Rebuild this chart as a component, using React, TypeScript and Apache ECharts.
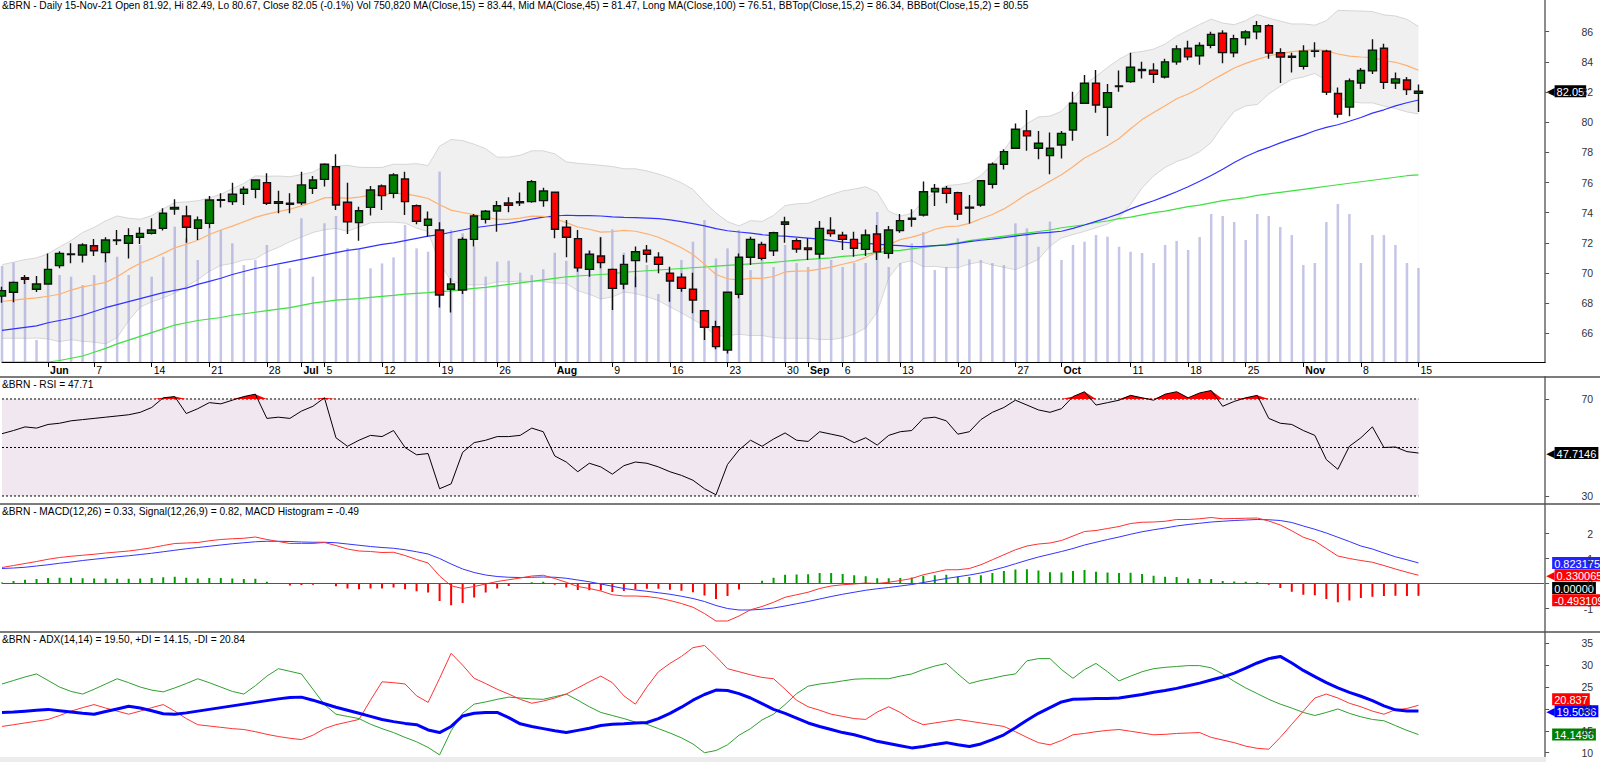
import React, { useEffect, useRef } from "react";
import * as echarts from "echarts";

const FONT = "'Liberation Sans', Arial, Helvetica, sans-serif";

// ---------------- categories ----------------
const FIRST_DAY = "2021-05-26";
const LAST_DAY = "2021-11-15";
const PAD_SLOTS = 11;

const TICK_LABELS: [string, string][] = [
  ["2021-06-01", "Jun"], ["2021-06-07", "7"], ["2021-06-14", "14"], ["2021-06-21", "21"], ["2021-06-28", "28"],
  ["2021-07-01", "Jul"], ["2021-07-05", "5"], ["2021-07-12", "12"], ["2021-07-19", "19"], ["2021-07-26", "26"],
  ["2021-08-02", "Aug"], ["2021-08-09", "9"], ["2021-08-16", "16"], ["2021-08-23", "23"], ["2021-08-30", "30"],
  ["2021-09-01", "Sep"], ["2021-09-06", "6"], ["2021-09-13", "13"], ["2021-09-20", "20"], ["2021-09-27", "27"],
  ["2021-10-01", "Oct"], ["2021-10-11", "11"], ["2021-10-18", "18"], ["2021-10-25", "25"],
  ["2021-11-01", "Nov"], ["2021-11-08", "8"], ["2021-11-15", "15"],
];
const MONTHS = ["Jun", "Jul", "Aug", "Sep", "Oct", "Nov"];

// ---------------- price data ----------------
const OPEN = [
  68.47, 68.72, 69.69, 68.92, 69.27, 70.49, 71.22, 71.19, 71.81, 71.35,
  72.15, 71.97, 72.37, 72.63, 72.96, 74.24, 73.78, 72.96, 73.29, 74.82,
  74.73, 75.28, 75.55, 75.99, 74.62, 74.55, 74.66, 75.62, 76.21, 77.05,
  74.69, 73.34, 74.35, 75.77, 75.28, 76.23, 74.46, 73.16, 72.85, 68.92,
  68.87, 72.23, 73.56, 74.11, 74.64, 74.66, 74.73, 74.8, 75.35, 73.03,
  72.28, 70.24, 71.13, 70.24, 69.27, 70.82, 71.52, 71.04, 69.98, 69.73,
  68.92, 67.5, 66.44, 64.89, 68.59, 71.04, 71.9, 71.48, 73.23, 72.14,
  71.66, 71.26, 72.83, 72.5, 72.23, 71.57, 72.59, 71.3, 72.81, 73.56,
  73.85, 75.39, 75.61, 75.33, 74.3, 74.51, 75.88, 77.21, 78.27, 79.42,
  78.27, 77.78, 78.49, 79.48, 81.25, 82.58, 80.99, 82.36, 82.69, 83.5,
  83.45, 83.0, 84.0, 84.9, 84.4, 85.1, 85.9, 84.6, 85.6, 86.0,
  86.4, 84.6, 84.3, 83.7, 84.7, 84.7, 81.9, 81.0, 82.6, 83.4,
  84.9, 82.6, 82.8, 81.92,
];
const HIGH = [
  69.09, 69.43, 69.87, 69.8, 71.3, 71.44, 71.97, 71.97, 72.26, 72.37,
  72.85, 72.96, 73.03, 73.63, 74.29, 74.89, 74.46, 73.74, 75.11, 75.28,
  75.99, 75.73, 76.21, 76.61, 75.46, 75.28, 76.72, 76.43, 77.27, 77.87,
  75.99, 74.4, 75.77, 75.86, 76.61, 76.72, 74.55, 74.07, 73.36, 69.65,
  72.37, 73.91, 74.18, 74.77, 75.02, 75.33, 76.17, 75.66, 75.4, 73.51,
  72.85, 71.48, 72.37, 70.3, 71.19, 71.75, 71.86, 71.37, 70.42, 69.98,
  70.02, 67.55, 66.84, 68.72, 71.3, 72.41, 72.08, 72.74, 73.73, 72.3,
  72.3, 73.45, 73.69, 72.74, 72.74, 72.89, 73.18, 73.12, 73.91, 74.22,
  76.06, 75.9, 75.77, 75.39, 75.17, 76.17, 77.32, 78.2, 79.92, 80.81,
  79.42, 79.31, 79.42, 82.02, 83.13, 83.46, 82.53, 83.42, 84.61, 84.0,
  83.9, 84.2, 85.1, 85.4, 85.3, 86.0, 86.1, 85.8, 86.1, 86.7,
  86.5, 84.9, 84.6, 85.1, 85.3, 84.8, 82.3, 82.9, 83.6, 85.5,
  85.2, 83.3, 83.0, 82.49,
];
const LOW = [
  68.03, 68.06, 69.27, 68.74, 69.27, 70.31, 70.64, 70.69, 71.13, 70.71,
  71.86, 70.97, 71.92, 72.56, 72.81, 73.87, 72.01, 72.19, 72.96, 74.35,
  74.51, 74.51, 74.95, 74.51, 73.96, 73.96, 74.51, 75.24, 75.73, 74.18,
  72.59, 72.14, 73.82, 74.18, 74.95, 73.85, 73.23, 72.41, 67.72, 67.39,
  68.61, 71.75, 73.29, 72.74, 74.02, 74.44, 74.66, 74.4, 72.3, 71.04,
  70.09, 69.76, 70.31, 67.55, 68.92, 69.05, 70.69, 69.98, 68.1, 68.76,
  67.33, 65.56, 64.94, 64.67, 68.32, 70.53, 70.85, 71.13, 72.01, 71.35,
  70.86, 70.97, 72.41, 71.52, 71.08, 71.13, 70.86, 70.97, 72.67, 73.07,
  73.74, 74.44, 74.62, 73.52, 73.29, 74.4, 75.61, 76.87, 78.27, 78.11,
  77.54, 76.54, 77.6, 78.77, 81.21, 80.63, 79.08, 82.02, 82.62, 82.9,
  82.6, 82.9, 83.8, 84.1, 83.8, 84.9, 83.9, 84.3, 85.1, 85.5,
  84.2, 82.6, 83.3, 83.5, 84.3, 81.8, 80.3, 80.4, 82.2, 83.2,
  82.2, 82.2, 81.8, 80.67,
];
const CLOSE = [
  68.83, 69.38, 69.58, 69.27, 70.24, 71.3, 71.26, 71.86, 71.48, 72.19,
  72.19, 72.48, 72.63, 72.85, 73.96, 74.35, 73.03, 73.52, 74.84, 74.86,
  75.22, 75.55, 76.17, 74.62, 74.73, 74.62, 75.84, 76.17, 77.21, 74.51,
  73.4, 74.13, 75.5, 75.13, 76.5, 74.73, 73.43, 73.56, 68.54, 69.27,
  72.23, 73.78, 74.09, 74.46, 74.49, 74.73, 76.06, 75.44, 72.9, 72.37,
  70.35, 71.24, 70.69, 68.98, 70.57, 71.41, 71.24, 70.57, 69.47, 68.98,
  68.21, 66.4, 65.12, 68.72, 71.04, 72.23, 70.97, 72.67, 73.38, 71.59,
  71.55, 72.96, 72.61, 72.23, 71.64, 72.52, 71.41, 72.85, 73.47, 73.63,
  75.39, 75.61, 75.28, 73.91, 74.36, 76.12, 77.21, 78.05, 79.53, 79.09,
  78.6, 78.27, 79.26, 81.25, 82.58, 81.14, 81.96, 82.4, 83.64, 83.42,
  83.18, 84.0, 84.86, 84.33, 85.08, 85.82, 84.61, 85.53, 85.99, 86.4,
  84.58, 84.32, 84.38, 84.71, 84.72, 81.99, 80.54, 82.74, 83.43, 84.78,
  82.64, 82.87, 82.17, 82.05,
];
const VOLUME_K = [
  766, 793, 681, 176, 721, 694, 681, 614, 694, 801,
  840, 694, 934, 681, 840, 1080, 987, 814, 1067, 1053,
  947, 774, 814, 934, 774, 748, 1147, 681, 1107, 1165,
  910, 907, 748, 787, 835, 1093, 907, 880, 1519, 1053,
  1027, 920, 681, 801, 808, 713, 694, 740, 872, 808,
  987, 894, 1000, 1059, 872, 681, 774, 543, 686, 814,
  960, 1133, 827, 907, 1053, 734, 854, 758, 934, 790,
  758, 934, 814, 758, 790, 790, 1197, 758, 790, 947,
  1037, 734, 758, 987, 819, 814, 790, 774, 1107, 1067,
  920, 1120, 814, 934, 960, 1013, 1000, 920, 880, 870,
  790, 934, 966, 894, 997, 1181, 1165, 1117, 974, 1181,
  1165, 1077, 1013, 774, 790, 1117, 1261, 1181, 790, 1013,
  1013, 934, 790, 750.82,
];
const MA15 = [
  68.11, 68.2, 68.28, 68.35, 68.46, 68.59, 68.87, 69.08, 69.22, 69.38,
  69.75, 70.24, 70.65, 70.95, 71.3, 71.67, 71.91, 72.17, 72.55, 72.85,
  73.11, 73.4, 73.69, 73.9, 74.07, 74.23, 74.45, 74.69, 74.98, 75.02,
  74.95, 75.03, 75.16, 75.18, 75.29, 75.25, 75.11, 74.94, 74.53, 74.17,
  74.01, 73.87, 73.73, 73.55, 73.55, 73.64, 73.77, 73.76, 73.61, 73.34,
  73.05, 72.9, 72.71, 72.74, 72.83, 72.77, 72.6, 72.37, 72.03, 71.67,
  71.23, 70.59, 69.9, 69.62, 69.53, 69.66, 69.64, 69.77, 70.07, 70.13,
  70.14, 70.26, 70.39, 70.58, 70.75, 71.04, 71.38, 71.89, 72.21, 72.38,
  72.59, 72.9, 73.07, 73.11, 73.29, 73.6, 73.88, 74.25, 74.73, 75.23,
  75.63, 76.09, 76.52, 77.04, 77.63, 78.02, 78.44, 78.92, 79.56, 80.17,
  80.64, 81.09, 81.55, 81.87, 82.26, 82.75, 83.17, 83.59, 83.9, 84.16,
  84.39, 84.54, 84.68, 84.75, 84.83, 84.75, 84.52, 84.38, 84.32, 84.3,
  84.09, 83.97, 83.75, 83.44,
];
const MA45 = [
  66.2, 66.3, 66.4, 66.5, 66.7, 66.85, 67.0, 67.2, 67.45, 67.7,
  67.9, 68.1, 68.3, 68.5, 68.7, 68.85, 69.0, 69.25, 69.45, 69.65,
  69.9, 70.1, 70.3, 70.45, 70.6, 70.75, 70.9, 71.05, 71.2, 71.35,
  71.5, 71.6, 71.75, 71.9, 72.0, 72.15, 72.3, 72.45, 72.55, 72.7,
  72.85, 73.0, 73.1, 73.2, 73.29, 73.42, 73.57, 73.7, 73.78, 73.83,
  73.81, 73.8, 73.78, 73.72, 73.69, 73.67, 73.64, 73.6, 73.52, 73.41,
  73.27, 73.13, 72.94, 72.8, 72.72, 72.65, 72.55, 72.47, 72.45, 72.38,
  72.31, 72.24, 72.16, 72.05, 71.99, 71.97, 71.91, 71.85, 71.81, 71.75,
  71.77, 71.81, 71.85, 71.97, 72.08, 72.17, 72.25, 72.34, 72.45, 72.55,
  72.64, 72.69, 72.77, 72.96, 73.18, 73.42, 73.66, 73.92, 74.25, 74.53,
  74.79, 75.08, 75.39, 75.72, 76.08, 76.47, 76.88, 77.33, 77.72, 78.06,
  78.33, 78.63, 78.89, 79.14, 79.43, 79.66, 79.83, 80.06, 80.31, 80.6,
  80.82, 81.08, 81.29, 81.47,
];
const MA100 = [
  64.1, 64.1, 64.1, 64.1, 64.1, 64.2, 64.35, 64.5, 64.75, 65.0,
  65.3, 65.55, 65.8, 66.05, 66.3, 66.55, 66.7, 66.85, 66.95, 67.05,
  67.2, 67.3, 67.4, 67.5, 67.6, 67.7, 67.85, 68.0, 68.1, 68.2,
  68.25, 68.3, 68.38, 68.45, 68.52, 68.6, 68.65, 68.7, 68.76, 68.82,
  68.9, 68.98, 69.05, 69.15, 69.25, 69.35, 69.45, 69.55, 69.65, 69.75,
  69.8, 69.85, 69.9, 69.95, 70.05, 70.1, 70.15, 70.2, 70.25, 70.3,
  70.35, 70.4, 70.45, 70.5, 70.55, 70.6, 70.65, 70.7, 70.78, 70.85,
  70.9, 70.95, 71.0, 71.1, 71.15, 71.25, 71.35, 71.45, 71.5, 71.6,
  71.7, 71.8, 71.9, 72.0, 72.15, 72.25, 72.35, 72.45, 72.55, 72.65,
  72.75, 72.85, 73.0, 73.1, 73.2, 73.35, 73.45, 73.6, 73.7, 73.85,
  74.0, 74.1, 74.25, 74.4, 74.5, 74.65, 74.8, 74.9, 75.0, 75.15,
  75.25, 75.35, 75.45, 75.55, 75.65, 75.75, 75.85, 75.95, 76.05, 76.15,
  76.25, 76.35, 76.45, 76.51,
];
const BB_TOP = [
  70.55, 70.72, 70.89, 71.0, 71.28, 71.73, 72.16, 72.69, 73.02, 73.46,
  73.78, 73.63, 73.56, 73.8, 74.25, 74.67, 74.71, 74.79, 74.98, 75.21,
  75.59, 75.94, 76.44, 76.41, 76.43, 76.38, 76.53, 76.69, 77.09, 77.07,
  77.14, 77.01, 76.99, 77.0, 77.21, 77.2, 77.25, 77.12, 78.41, 78.85,
  78.78, 78.54, 78.24, 77.68, 77.68, 77.81, 78.1, 78.1, 77.9, 77.37,
  77.27, 77.21, 77.14, 77.06, 76.91, 76.91, 76.77, 76.56, 76.31, 75.98,
  75.54, 74.7, 73.98, 73.41, 73.12, 73.47, 73.42, 73.82, 74.47, 74.59,
  74.62, 74.92, 75.2, 75.44, 75.56, 75.72, 75.35, 74.09, 73.77, 73.95,
  74.76, 75.36, 75.8, 75.86, 75.99, 76.46, 77.23, 78.11, 79.24, 79.9,
  80.35, 80.4, 80.72, 81.52, 82.51, 83.03, 83.63, 84.17, 84.58, 84.69,
  84.84, 85.18, 85.7, 86.09, 86.48, 86.83, 86.57, 86.46, 86.73, 87.14,
  86.9, 86.7, 86.51, 86.51, 86.43, 86.73, 87.41, 87.39, 87.37, 87.33,
  87.11, 87.04, 86.82, 86.34,
];
const BB_BOT = [
  65.67, 65.68, 65.67, 65.69, 65.63, 65.45, 65.58, 65.47, 65.42, 65.3,
  65.72, 66.85, 67.74, 68.09, 68.35, 68.67, 69.11, 69.56, 70.11, 70.5,
  70.64, 70.86, 70.94, 71.39, 71.7, 72.08, 72.38, 72.69, 72.87, 72.96,
  72.77, 73.04, 73.33, 73.36, 73.37, 73.31, 72.98, 72.75, 70.66, 69.49,
  69.24, 69.21, 69.23, 69.42, 69.42, 69.47, 69.43, 69.43, 69.33, 69.31,
  68.83, 68.59, 68.28, 68.42, 68.74, 68.64, 68.44, 68.17, 67.76, 67.36,
  66.93, 66.48, 65.82, 65.83, 65.95, 65.85, 65.86, 65.72, 65.67, 65.67,
  65.67, 65.6, 65.59, 65.71, 65.95, 66.36, 67.41, 69.69, 70.65, 70.81,
  70.42, 70.44, 70.35, 70.36, 70.6, 70.74, 70.53, 70.38, 70.22, 70.55,
  70.91, 71.78, 72.32, 72.55, 72.76, 73.0, 73.25, 73.66, 74.54, 75.64,
  76.44, 77.0, 77.39, 77.65, 78.04, 78.66, 79.76, 80.71, 81.08, 81.17,
  81.87, 82.39, 82.84, 82.99, 83.23, 82.77, 81.64, 81.38, 81.28, 81.28,
  81.07, 80.91, 80.68, 80.55,
];

// ---------------- RSI ----------------
const RSI_HIGH = 70;
const RSI_MID = 50;
const RSI_LOW = 30;
const RSI = [
  55.7, 57, 58.5, 58, 59.5, 60, 61, 61.5, 62, 62.5,
  63, 63.5, 64.5, 66.5, 70.5, 71, 64, 66, 68.5, 68,
  69.5, 71, 72, 62, 62.5, 62, 65, 67, 70.5, 54,
  50.5, 53, 55, 54.5, 57, 50, 47, 47.5, 33, 35,
  48, 52, 53, 54.5, 54.5, 55, 58, 56.5, 46.5, 44,
  40, 43.5, 42, 39, 42.5, 44, 43.5, 42, 40, 38.5,
  36.5, 33, 30.5, 43, 49, 53, 50.5, 53.5, 56, 53,
  52.5, 56.5, 55.5, 54.5, 52, 54, 51, 55, 56.5, 57,
  62, 62.5, 61, 55.5, 56.5, 61.5, 64.5, 66.5, 69.5, 67.5,
  65.5, 64.5, 66, 71, 73, 67.5, 68.5, 69.5, 71.5, 70.5,
  69.5, 72, 73, 70.5, 72.5, 73.5, 67, 69, 70.5, 71.5,
  62, 60, 59.5, 57, 55, 45, 41, 50.5, 54, 58.5,
  50, 50.2, 48.3, 47.7146,
];

// ---------------- MACD ----------------
const MACD = [
  0.64, 0.72, 0.8, 0.88, 0.97, 1.04, 1.09, 1.13, 1.17, 1.22,
  1.26, 1.3, 1.36, 1.43, 1.52, 1.6, 1.62, 1.64, 1.71, 1.76,
  1.79, 1.81, 1.86, 1.76, 1.68, 1.6, 1.6, 1.6, 1.64, 1.52,
  1.38, 1.3, 1.28, 1.24, 1.25, 1.12, 0.96, 0.82, 0.3, -0.09,
  -0.2, -0.12, -0.02, 0.08, 0.15, 0.22, 0.3, 0.33, 0.2, 0.05,
  -0.12, -0.2, -0.3, -0.45, -0.5, -0.5, -0.52, -0.58, -0.68, -0.8,
  -0.95, -1.2, -1.5, -1.5, -1.3, -1.05, -0.92, -0.75, -0.55, -0.45,
  -0.35, -0.2, -0.1, -0.05, -0.02, 0.02, 0.0, 0.05, 0.12, 0.2,
  0.35, 0.45, 0.55, 0.55, 0.6, 0.75, 0.95, 1.15, 1.35, 1.5,
  1.58, 1.62, 1.72, 1.9, 2.08, 2.12, 2.2, 2.28, 2.4, 2.45,
  2.46, 2.49, 2.56, 2.56, 2.59, 2.64, 2.59, 2.6, 2.61, 2.62,
  2.5, 2.34, 2.11, 1.85, 1.7, 1.4, 1.1, 1.0, 0.92, 0.85,
  0.72, 0.58, 0.45, 0.330065,
];
const SIGNAL = [
  0.6, 0.62, 0.65, 0.7, 0.75, 0.81, 0.86, 0.92, 0.97, 1.02,
  1.07, 1.11, 1.16, 1.21, 1.27, 1.33, 1.39, 1.44, 1.49, 1.54,
  1.59, 1.63, 1.67, 1.69, 1.69, 1.68, 1.66, 1.65, 1.65, 1.63,
  1.58, 1.53, 1.48, 1.44, 1.41, 1.35, 1.27, 1.18, 1.0, 0.78,
  0.58, 0.44, 0.34, 0.28, 0.25, 0.24, 0.25, 0.26, 0.25, 0.21,
  0.14, 0.07, -0.02, -0.11, -0.2, -0.26, -0.31, -0.37, -0.43, -0.51,
  -0.6, -0.72, -0.88, -1.0, -1.06, -1.06, -1.03, -0.98, -0.9, -0.81,
  -0.72, -0.62, -0.52, -0.43, -0.35, -0.27, -0.21, -0.16, -0.1, -0.04,
  0.04, 0.12, 0.2, 0.27, 0.34, 0.42, 0.53, 0.65, 0.79, 0.93,
  1.06, 1.17, 1.28, 1.4, 1.54, 1.65, 1.76, 1.86, 1.97, 2.07,
  2.15, 2.22, 2.3, 2.36, 2.41, 2.46, 2.49, 2.52, 2.54, 2.56,
  2.55, 2.52, 2.44, 2.3, 2.17, 2.02, 1.85, 1.68, 1.5, 1.38,
  1.22, 1.07, 0.95, 0.823175,
];
const HIST = [
  0.04, 0.1, 0.15, 0.18, 0.22, 0.23, 0.23, 0.21, 0.2, 0.2,
  0.19, 0.19, 0.2, 0.22, 0.25, 0.27, 0.23, 0.2, 0.22, 0.22,
  0.2, 0.18, 0.19, 0.07, -0.01, -0.08, -0.06, -0.05, -0.01, -0.11,
  -0.2, -0.23, -0.2, -0.2, -0.16, -0.23, -0.31, -0.36, -0.7, -0.87,
  -0.78, -0.56, -0.36, -0.2, -0.1, -0.02, 0.05, 0.07, -0.05, -0.16,
  -0.26, -0.27, -0.28, -0.34, -0.3, -0.24, -0.21, -0.21, -0.25, -0.29,
  -0.35, -0.48, -0.62, -0.5, -0.24, 0.01, 0.11, 0.23, 0.35, 0.36,
  0.37, 0.42, 0.42, 0.38, 0.33, 0.29, 0.21, 0.21, 0.22, 0.24,
  0.31, 0.33, 0.35, 0.28, 0.26, 0.33, 0.42, 0.5, 0.56, 0.57,
  0.52, 0.45, 0.44, 0.5, 0.54, 0.47, 0.44, 0.42, 0.43, 0.38,
  0.31, 0.27, 0.26, 0.2, 0.18, 0.18, 0.1, 0.08, 0.07, 0.06,
  -0.05, -0.18, -0.33, -0.45, -0.47, -0.62, -0.75, -0.68, -0.58, -0.53,
  -0.5, -0.49, -0.5, -0.493109,
];

// ---------------- ADX ----------------
const ADX = [
  19.2, 19.3, 19.5, 19.7, 19.9, 19.6, 19.3, 19.0, 18.8, 19.4,
  20.0, 20.6, 20.2, 19.6, 18.9, 18.8, 19.1, 19.5, 19.9, 20.3,
  20.7, 21.1, 21.5, 21.9, 22.3, 22.6, 22.7, 22.0, 21.2, 20.4,
  19.7, 19.0, 18.3, 17.6, 17.1, 16.7, 16.4, 15.2, 14.6, 16.0,
  18.4, 19.0, 19.2, 19.2, 18.0, 16.6, 16.0, 15.5, 15.0, 14.6,
  15.1, 15.6, 16.2, 16.5, 16.6, 16.8, 16.9, 17.8, 19.0, 20.4,
  22.0, 23.3, 24.3, 24.2, 23.5, 22.5, 21.2, 19.9, 19.0, 17.9,
  16.8, 16.0, 15.3, 14.6, 14.1, 13.4, 12.6, 12.1, 11.6, 11.1,
  11.4, 11.9, 12.3, 11.8, 11.4, 12.0, 13.0, 14.1, 15.7, 17.4,
  19.0, 20.3, 21.6, 22.2, 22.3, 22.4, 22.4, 22.5, 22.9, 23.3,
  23.8, 24.2, 24.7, 25.3, 25.9, 26.6, 27.3, 28.2, 29.3, 30.5,
  31.5, 32.0, 30.5, 28.8, 27.4, 26.0, 24.8, 23.8, 22.9, 21.9,
  20.7, 19.8, 19.55, 19.5036,
];
const PLUS_DI = [
  25.7, 26.5, 27.3, 28, 26.5, 25, 24, 23.4, 24.5, 25.7,
  26.9, 26, 25, 24.3, 23.9, 24.8, 25.8, 26.9, 26, 25,
  24, 23.4, 25.3, 27.5, 29.2, 28.6, 28, 24.5, 21, 18.8,
  18.3, 17.8, 16.5, 15.5, 14.6, 13.5, 12.5, 11.2, 9.5, 15,
  19, 21.1, 21.6, 22.2, 22.7, 22.5, 22.3, 22.2, 22.8, 23.4,
  22, 20.5, 19.2, 18.5, 17.8, 17, 16.5, 15.5, 14.5, 13.4,
  12, 10, 10.5, 11.8, 14, 15.5, 17.5, 18.8, 21, 23.5,
  25.2, 25.7, 26, 26.4, 26.8, 26.9, 26.9, 26.9, 27.5, 28,
  29, 29.8, 30.4, 28, 25.8, 26.5, 27, 27.6, 28, 31,
  31.5, 31.5, 29, 27, 29, 30.4, 28.5, 26.4, 27.5, 28.5,
  29.2, 29.5, 29.7, 29.9, 29.9, 29.4, 28, 26.3, 24.8, 23.5,
  22.2, 21.1, 20.2, 19.2, 18.5, 19.2, 20, 19, 18.2, 17.6,
  17.3, 16.2, 15.1, 14.1496,
];
const MINUS_DI = [
  16, 16.4, 16.8, 17.2, 17.6, 18.5, 19.5, 20.3, 21, 20.2,
  19.5, 18.8, 19.5, 20.3, 21, 19.5, 17.8, 16.4, 16.1, 15.8,
  15.5, 15.3, 14.8, 14.2, 13.7, 13.3, 13, 14, 15.5, 16.4,
  17, 17.6, 22, 26.2, 26, 25.7, 23, 21.5, 27, 32.7,
  30, 27, 25.8, 24.5, 23.4, 22.2, 21.3, 21.8, 22.5, 23.4,
  24.8, 26.2, 27.5, 26, 23, 21.1, 25, 28.5, 30.4, 32,
  34, 34.5, 32, 29.2, 28.5, 27.8, 27.2, 26.9, 24.5, 22,
  20.5, 19.7, 18.8, 18.3, 17.8, 17.6, 19.3, 20.5, 19.2, 17.5,
  16.4, 16.8, 17.2, 17.6, 17.2, 16.8, 16.4, 16, 14.8, 13.5,
  12.3, 11.8, 12.8, 14.1, 14.4, 14.8, 15.1, 15.3, 14.9, 14.5,
  14.1, 14.2, 14.4, 14.5, 14.6, 13.5, 12.9, 12.3, 11.5, 11,
  10.8, 13.5, 16.5, 19.5, 22.5, 23.4, 22.5, 21.3, 20.5, 19.5,
  18.8, 19.8, 20.1, 20.837,
];

// ---------------- helpers ----------------
function tradingDays(from: string, to: string): string[] {
  const out: string[] = [];
  const d = new Date(from + "T00:00:00Z");
  const end = new Date(to + "T00:00:00Z").getTime();
  while (d.getTime() <= end) {
    const w = d.getUTCDay();
    if (w !== 0 && w !== 6) out.push(d.toISOString().slice(0, 10));
    d.setUTCDate(d.getUTCDate() + 1);
  }
  return out;
}

const last = (a: number[]) => a[a.length - 1];
const HIDDEN_LINE = { color: "rgba(0,0,0,0)", width: 0, opacity: 1 };

function tagLabel(text: string, bg: string, arrow: boolean, dy = 0) {
  return {
    show: true,
    position: "end",
    distance: arrow ? 1 : 7,
    offset: [0, dy],
    formatter: arrow ? `{a|◀}{t|${text}}` : `{t|${text}}`,
    rich: {
      a: { color: bg, fontSize: 11, fontFamily: "'DejaVu Sans'", lineHeight: 14, padding: [0, 0, 0, 0] },
      t: {
        backgroundColor: bg,
        color: "#ffffff",
        fontSize: 11,
        fontFamily: FONT,
        lineHeight: 14,
        padding: [1, 2, 0, 2],
      },
    },
  };
}

function tagMark(items: { value: number; text: string; bg: string; arrow: boolean; dy?: number; line?: any }[]) {
  return {
    silent: true,
    symbol: ["none", "none"],
    animation: false,
    lineStyle: HIDDEN_LINE,
    data: items.map((it) => ({
      yAxis: it.value,
      lineStyle: it.line || HIDDEN_LINE,
      label: tagLabel(it.text, it.bg, it.arrow, it.dy || 0),
    })),
  };
}

function yAxisFor(grid: number, min: number, max: number, ticks: number[]) {
  return {
    type: "value",
    gridIndex: grid,
    position: "right",
    min,
    max,
    splitLine: { show: false },
    axisLine: { show: true, lineStyle: { color: "#8c8c8c", width: 2 } },
    axisTick: { show: true, length: 4, customValues: ticks, lineStyle: { color: "#555" } },
    axisLabel: {
      show: true,
      customValues: ticks,
      align: "right",
      margin: 48,
      color: "#333",
      fontSize: 10.5,
      fontFamily: FONT,
    },
    z: 10,
  };
}

function headerRich(size: number) {
  const base = { fontSize: size, fontFamily: FONT };
  return {
    k: { ...base, color: "#000000" },
    o: { ...base, color: "#ffa050" },
    b: { ...base, color: "#3030ff" },
    g: { ...base, color: "#33cc33" },
    l: { ...base, color: "#c4c4c4" },
    r: { ...base, color: "#ff2020" },
  };
}

function App() {
  const ref = useRef<HTMLDivElement>(null);

  useEffect(() => {
    if (!ref.current) return;
    const chart = echarts.init(ref.current, null, { renderer: "svg" });

    const dates = tradingDays(FIRST_DAY, LAST_DAY);
    const cats = [...dates, ...Array.from({ length: PAD_SLOTS }, (_, k) => `pad${k}`)];
    const labelMap = new Map<number, string>();
    TICK_LABELS.forEach(([d, t]) => {
      const i = dates.indexOf(d);
      if (i >= 0) labelMap.set(i, t);
    });

    const left = 2;
    const step = 11.516;
    const width = step * (cats.length - 1);

    const grids = [
      { left, top: 0, width, height: 362 },
      { left, top: 377, width, height: 127 },
      { left, top: 504, width, height: 128 },
      { left, top: 632, width, height: 125 },
    ];

    const xAxes = grids.map((_, g) => ({
      type: "category",
      gridIndex: g,
      data: cats,
      boundaryGap: false,
      axisLine: g === 0 ? { show: true, onZero: false, lineStyle: { color: "#000", width: 1 } } : { show: false },
      axisTick:
        g === 0
          ? { show: true, interval: (i: number) => labelMap.has(i), length: 5, lineStyle: { color: "#000" } }
          : { show: false },
      axisLabel:
        g === 0
          ? {
              show: true,
              interval: (i: number) => labelMap.has(i),
              formatter: (_v: string, i: number) => {
                const t = labelMap.get(i) || "";
                return MONTHS.includes(t) ? `{m|${t}}` : `{d|${t}}`;
              },
              align: "left",
              margin: 2,
              rich: {
                m: { fontWeight: "bold", fontSize: 10.5, color: "#000", fontFamily: FONT, padding: [0, 0, 0, 2] },
                d: { fontSize: 10.5, color: "#000", fontFamily: FONT, padding: [0, 0, 0, 2] },
              },
            }
          : { show: false },
      splitLine: { show: false },
      z: 10,
    }));

    const priceTicks = [66, 68, 70, 72, 74, 76, 78, 80, 82, 84, 86];
    const yAxes: any[] = [
      yAxisFor(0, 64.1, 88.1, priceTicks),
      { type: "value", gridIndex: 0, show: false, min: 0, max: 2889 },
      yAxisFor(1, 26.7, 79.07, [30, 70]),
      yAxisFor(2, -1.94, 3.18, [-1, 0, 1, 2]),
      yAxisFor(3, 9.02, 37.58, [10, 15, 20, 25, 30, 35]),
    ];

    const ohlc = dates.map((_, i) => [OPEN[i], CLOSE[i], LOW[i], HIGH[i]]);
    const rsiHi = dates.map(() => RSI_HIGH);
    const rsiMid = dates.map(() => RSI_MID);
    const rsiLo = dates.map(() => RSI_LOW);
    const rsiExcess = RSI.map((v) => Math.max(v - RSI_HIGH, 0));

    const lineBase = { type: "line", symbol: "none", silent: true, animation: false };

    const series: any[] = [
      // ---- price panel ----
      {
        ...lineBase, name: "BBTop", xAxisIndex: 0, yAxisIndex: 0, data: BB_TOP, z: 1,
        lineStyle: { color: "#d6d6d6", width: 1 },
        areaStyle: { color: "#f0f0f0", opacity: 1, origin: "start" },
      },
      {
        ...lineBase, name: "BBBot", xAxisIndex: 0, yAxisIndex: 0, data: BB_BOT, z: 2,
        lineStyle: { color: "#d6d6d6", width: 1 },
        areaStyle: { color: "#ffffff", opacity: 1, origin: "start" },
      },
      {
        type: "bar", name: "Vol", xAxisIndex: 0, yAxisIndex: 1, data: VOLUME_K, barWidth: 2.5, z: 3, silent: true,
        itemStyle: { color: "rgba(150,150,212,0.55)" },
      },
      { ...lineBase, name: "MA100", xAxisIndex: 0, yAxisIndex: 0, data: MA100, z: 4, lineStyle: { color: "#3fe03f", width: 1.2 } },
      { ...lineBase, name: "MA45", xAxisIndex: 0, yAxisIndex: 0, data: MA45, z: 4, lineStyle: { color: "#3232ff", width: 1.2 } },
      { ...lineBase, name: "MA15", xAxisIndex: 0, yAxisIndex: 0, data: MA15, z: 4, lineStyle: { color: "#ffb070", width: 1.2 } },
      {
        type: "candlestick", name: "BRN", xAxisIndex: 0, yAxisIndex: 0, data: ohlc, barWidth: 8, z: 5, silent: true,
        itemStyle: { color: "#008000", color0: "#ff0000", borderColor: "#111", borderColor0: "#111", borderWidth: 1.4 },
        markLine: tagMark([{ value: last(CLOSE), text: last(CLOSE).toFixed(2), bg: "#000000", arrow: true }]),
      },
      // ---- RSI panel ----
      {
        ...lineBase, name: "rsiBand", xAxisIndex: 1, yAxisIndex: 2, data: rsiHi, z: 1,
        lineStyle: { color: "#000", width: 1, type: [2, 2] },
        areaStyle: { color: "#f1e7f1", opacity: 1, origin: "start" },
      },
      {
        ...lineBase, name: "rsiLowBand", xAxisIndex: 1, yAxisIndex: 2, data: rsiLo, z: 2,
        lineStyle: { color: "#000", width: 1, type: [2, 2] },
        areaStyle: { color: "#ffffff", opacity: 1, origin: "start" },
      },
      {
        ...lineBase, name: "rsiMid", xAxisIndex: 1, yAxisIndex: 2, data: rsiMid, z: 3,
        lineStyle: { color: "#000", width: 1, type: [2, 2] },
      },
      {
        ...lineBase, name: "rsiBase", xAxisIndex: 1, yAxisIndex: 2, data: rsiHi, stack: "ob", z: 3,
        lineStyle: { opacity: 0, width: 0 },
      },
      {
        ...lineBase, name: "rsiOver", xAxisIndex: 1, yAxisIndex: 2, data: rsiExcess, stack: "ob", z: 4,
        lineStyle: { opacity: 0, width: 0 },
        areaStyle: { color: "#ff0000", opacity: 1 },
      },
      {
        ...lineBase, name: "RSI", xAxisIndex: 1, yAxisIndex: 2, data: RSI, z: 5,
        lineStyle: { color: "#000", width: 1 },
        markLine: tagMark([{ value: last(RSI), text: last(RSI).toFixed(4), bg: "#000000", arrow: true }]),
      },
      // ---- MACD panel ----
      {
        type: "bar", name: "Hist", xAxisIndex: 2, yAxisIndex: 3, data: HIST, barWidth: 2, z: 2, silent: true,
        itemStyle: { color: (p: any) => (p.value >= 0 ? "#00a000" : "#ff0000") },
        markLine: tagMark([
          { value: 0, text: "0.00000", bg: "#000000", arrow: false, dy: 4.5, line: { color: "#555", width: 1, type: "solid", opacity: 1 } },
          { value: last(HIST), text: String(last(HIST)), bg: "#ff0000", arrow: false, dy: 4.5 },
        ]),
      },
      {
        ...lineBase, name: "Signal", xAxisIndex: 2, yAxisIndex: 3, data: SIGNAL, z: 3,
        lineStyle: { color: "#3333ff", width: 1 },
        markLine: tagMark([{ value: last(SIGNAL), text: String(last(SIGNAL)), bg: "#2222ff", arrow: false }]),
      },
      {
        ...lineBase, name: "MACD", xAxisIndex: 2, yAxisIndex: 3, data: MACD, z: 4,
        lineStyle: { color: "#ff3030", width: 1 },
        markLine: tagMark([{ value: last(MACD), text: String(last(MACD)), bg: "#ff0000", arrow: true }]),
      },
      // ---- ADX panel ----
      {
        ...lineBase, name: "+DI", xAxisIndex: 3, yAxisIndex: 4, data: PLUS_DI, z: 3,
        lineStyle: { color: "#2ea02e", width: 1 },
        markLine: tagMark([{ value: last(PLUS_DI), text: String(last(PLUS_DI)), bg: "#008000", arrow: false }]),
      },
      {
        ...lineBase, name: "-DI", xAxisIndex: 3, yAxisIndex: 4, data: MINUS_DI, z: 3,
        lineStyle: { color: "#ff3333", width: 1 },
        markLine: tagMark([{ value: last(MINUS_DI), text: String(last(MINUS_DI)), bg: "#ff0000", arrow: false, dy: -6 }]),
      },
      {
        ...lineBase, name: "ADX", xAxisIndex: 3, yAxisIndex: 4, data: ADX, z: 4,
        lineStyle: { color: "#0000ff", width: 3 },
        markLine: tagMark([{ value: last(ADX), text: String(last(ADX)), bg: "#0000ff", arrow: true }]),
      },
    ];

    const n = dates.length;
    const chg = ((CLOSE[n - 1] - CLOSE[n - 2]) / CLOSE[n - 2]) * 100;
    const vol = Math.round(last(VOLUME_K) * 1000).toLocaleString("en-US");

    const mk = (parts: [string, string][]) => parts.map(([s, t]) => `{${s}|${t}}`).join("");

    const priceHeader = mk([
      ["k", `&BRN - Daily 15-Nov-21 Open ${last(OPEN).toFixed(2)}, Hi ${last(HIGH).toFixed(2)}, Lo ${last(LOW).toFixed(2)}, Close ${last(CLOSE).toFixed(2)} (${chg.toFixed(1)}%) Vol ${vol} `],
      ["o", "MA(Close,15)"], ["k", ` = ${last(MA15).toFixed(2)}, `],
      ["b", "Mid MA(Close,45)"], ["k", ` = ${last(MA45).toFixed(2)}, `],
      ["g", "Long MA(Close,100)"], ["k", ` = ${last(MA100).toFixed(2)}, `],
      ["l", "BBTop(Close,15,2)"], ["k", ` = ${last(BB_TOP).toFixed(2)}, `],
      ["l", "BBBot(Close,15,2)"], ["k", ` = ${last(BB_BOT).toFixed(2)}`],
    ]);
    const rsiHeader = mk([["k", `&BRN - RSI = ${last(RSI).toFixed(2)}`]]);
    const macdHeader = mk([
      ["k", "&BRN - "], ["r", "MACD(12,26)"], ["k", ` = ${last(MACD).toFixed(2)}, `],
      ["b", "Signal(12,26,9)"], ["k", ` = ${last(SIGNAL).toFixed(2)}, `],
      ["r", "MACD Histogram"], ["k", ` = ${last(HIST).toFixed(2)}`],
    ]);
    const adxHeader = mk([
      ["k", "&BRN - "], ["b", "ADX(14,14)"], ["k", ` = ${last(ADX).toFixed(2)}, `],
      ["g", "+DI"], ["k", ` = ${last(PLUS_DI).toFixed(2)}, `],
      ["r", "-DI"], ["k", ` = ${last(MINUS_DI).toFixed(2)}`],
    ]);

    const sep = (y: number) => ({
      type: "line",
      shape: { x1: 0, y1: y, x2: 1600, y2: y },
      style: { stroke: "#505050", lineWidth: 1.5 },
      z: 20,
    });

    const HS = 10.2;
    const option: any = {
      animation: false,
      backgroundColor: "#ffffff",
      textStyle: { fontFamily: FONT },
      grid: grids,
      xAxis: xAxes,
      yAxis: yAxes,
      series,
      graphic: [
        { type: "text", x: 2, y: 0, z: 30, style: { text: priceHeader, fontSize: HS, fontFamily: FONT, rich: headerRich(HS) } },
        { type: "text", x: 2, y: 379, z: 30, style: { text: rsiHeader, fontSize: HS, fontFamily: FONT, rich: headerRich(HS) } },
        { type: "text", x: 2, y: 506, z: 30, style: { text: macdHeader, fontSize: HS, fontFamily: FONT, rich: headerRich(HS) } },
        { type: "text", x: 2, y: 634, z: 30, style: { text: adxHeader, fontSize: HS, fontFamily: FONT, rich: headerRich(HS) } },
        sep(377),
        sep(504),
        sep(632),
        { type: "rect", shape: { x: 0, y: 757, width: 1546, height: 5 }, style: { fill: "#ececec" }, z: 20 },
      ],
    };

    chart.setOption(option);
    return () => chart.dispose();
  }, []);

  return (
    <div
      ref={ref}
      style={{ position: "fixed", left: 0, top: 0, width: 1600, height: 762, background: "#fff" }}
    />
  );
}

export default App;
